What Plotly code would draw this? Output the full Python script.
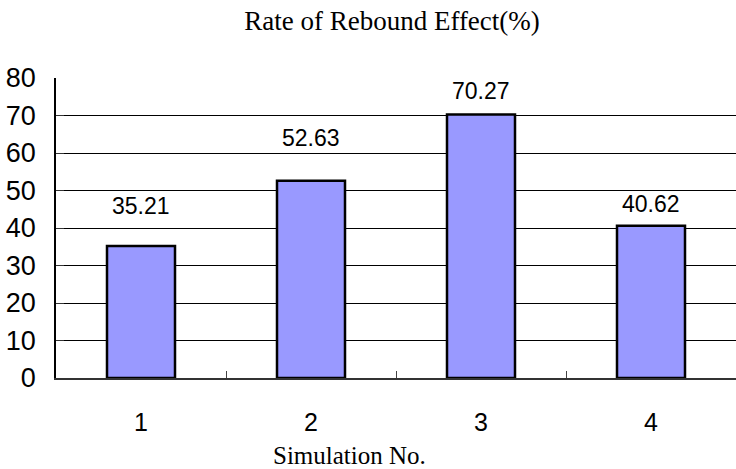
import plotly.graph_objects as go

categories = ["1", "2", "3", "4"]
values = [35.21, 52.63, 70.27, 40.62]
value_labels = ["35.21", "52.63", "70.27", "40.62"]
label_shifts = [40, 43, 23, 22]
y_ticks = [0, 10, 20, 30, 40, 50, 60, 70, 80]

W, H = 736, 469
L, R, T, B = 56, 0, 78, 91

fig = go.Figure()
fig.add_trace(go.Bar(
    x=categories, y=values, width=0.4,
    marker=dict(color="#9999FF", line=dict(color="black", width=2.5)),
    hoverinfo="skip",
))

for i, (v, t, s) in enumerate(zip(values, value_labels, label_shifts)):
    fig.add_annotation(x=i, y=v, text=t, showarrow=False, yshift=s,
                       yanchor="middle",
                       font=dict(family="Liberation Sans, Arial", size=23, color="black"))

fig.add_annotation(xref="paper", yref="paper", x=(349 - L) / (W - L - R), y=0, yshift=-77,
                   text="Simulation No.", showarrow=False, yanchor="middle",
                   font=dict(family="Liberation Serif, Times New Roman", size=25, color="black"))

fig.update_layout(
    width=W, height=H,
    margin=dict(l=L, r=R, t=T, b=B, pad=0, autoexpand=False),
    paper_bgcolor="white", plot_bgcolor="white",
    showlegend=False,
    title=dict(text="Rate of Rebound Effect(%)", x=(392 - L) / (W - L - R), xref="paper",
               y=1 - 21 / H, yref="container", yanchor="middle", xanchor="center",
               font=dict(family="Liberation Serif, Times New Roman", size=27, color="black")),
)
fig.update_xaxes(
    type="category", range=[-0.5, 3.5], tickson="boundaries", ticks="inside", ticklen=7,
    tickcolor="#444", tickwidth=1, automargin=False,
    showline=True, linecolor="#333", linewidth=2,
    showgrid=False, ticklabelstandoff=21,
    tickfont=dict(family="Liberation Sans, Arial", size=25, color="black"),
)
fig.update_yaxes(
    range=[0, 80], tickvals=y_ticks, ticks="inside", ticklen=8, tickcolor="#333",
    showline=True, linecolor="black", linewidth=1.5, automargin=False,
    showgrid=True, gridcolor="black", gridwidth=1,
    zeroline=False, ticklabelstandoff=13,
    tickfont=dict(family="Liberation Sans, Arial", size=27, color="black"),
)

fig.write_html("out.html", config={"displayModeBar": False},
               post_script="document.body.style.margin='0';document.body.style.overflow='hidden';")
